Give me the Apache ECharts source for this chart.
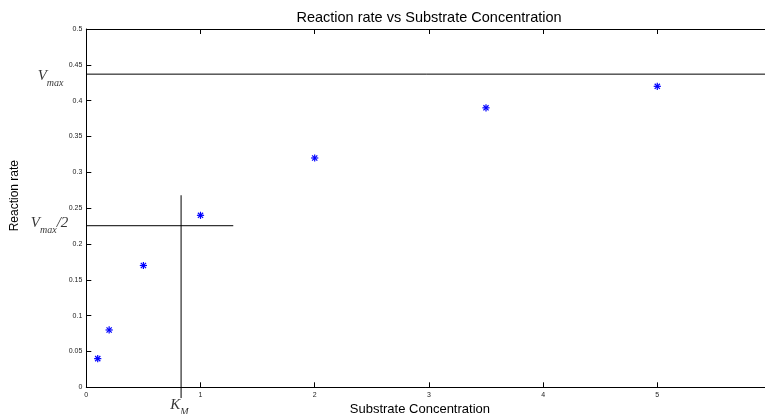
<!DOCTYPE html>
<html>
<head>
<meta charset="utf-8">
<script src="https://cdn.jsdelivr.net/npm/echarts@6/dist/echarts.min.js"></script>
<style>html,body{margin:0;padding:0;background:#fff}#c{width:765px;height:414px}</style>
</head>
<body>
<div id="c"></div>
<script>
const substrate = [0.1, 0.2, 0.5, 1, 2, 3.5, 5];
const rate = [0.04, 0.08, 0.17, 0.24, 0.32, 0.39, 0.42];
const vmax = 0.437;
const halfVmax = 0.2255;
const km = 0.83;
const titleText = 'Reaction rate vs Substrate Concentration';
const xName = 'Substrate Concentration';
const yName = 'Reaction rate';

const chart = echarts.init(document.getElementById('c'));
const sans = 'Liberation Sans, Arial, Helvetica, sans-serif';
const serif = 'Liberation Serif, Times New Roman, serif';
const fmt = v => String(Number(v.toFixed(2)));

const lineStyle = {color: '#000', width: 1};
function seg(data) {
  return {type: 'line', data: data, symbol: 'none', clip: false, silent: true,
    lineStyle: lineStyle, animation: false, z: 3};
}
const rich = {
  v: {fontFamily: serif, fontStyle: 'italic', fontSize: 15, color: '#000'},
  s: {fontFamily: serif, fontStyle: 'italic', fontSize: 10, color: '#000', padding: [14, 0, 0, 0]},
  t: {fontFamily: serif, fontStyle: 'italic', fontSize: 15, color: '#000'}
};
function textPt(x, y, str) {
  return {type: 'scatter', data: [[x, y]], symbol: 'circle', symbolSize: 1,
    itemStyle: {color: 'rgba(0,0,0,0)'}, clip: false, silent: true, animation: false, z: 6,
    label: {show: true, position: 'right', distance: 0, formatter: str, rich: rich}};
}

chart.setOption({
  animation: false,
  title: {text: titleText, left: 424, top: 5, textAlign: 'center',
    textStyle: {fontFamily: sans, fontSize: 14.5, fontWeight: 'normal', color: '#000'}},
  grid: {left: 86.3, top: 29, right: -6.5, bottom: 26.7, containLabel: false,
    outerBoundsMode: 'none'},
  xAxis: [{
    type: 'value', min: 0, max: 6, interval: 1, position: 'bottom',
    name: xName, nameLocation: 'middle', nameGap: 9,
    nameTextStyle: {fontFamily: sans, fontSize: 13, color: '#000', padding: [0, 18, 0, 0]},
    axisLine: {show: true, lineStyle: {color: '#000', width: 1}},
    axisTick: {show: true, inside: true, length: 5, lineStyle: {color: '#000'}},
    axisLabel: {fontFamily: sans, fontSize: 7, color: '#222', margin: 4},
    splitLine: {show: false}
  }, {
    type: 'value', min: 0, max: 6, interval: 1, position: 'top',
    axisLine: {show: true, lineStyle: {color: '#000', width: 1}},
    axisTick: {show: true, inside: true, length: 5, lineStyle: {color: '#000'}},
    axisLabel: {show: false}, splitLine: {show: false}
  }],
  yAxis: [{
    type: 'value', min: 0, max: 0.5, interval: 0.05,
    name: yName, nameLocation: 'middle', nameGap: 66,
    nameTextStyle: {fontFamily: sans, fontSize: 12, color: '#000', padding: [0, 0, 0, 25]},
    axisLine: {show: true, lineStyle: {color: '#000', width: 1}},
    axisTick: {show: true, inside: true, length: 5, lineStyle: {color: '#000'}},
    axisLabel: {fontFamily: sans, fontSize: 7, color: '#222', margin: 4, formatter: fmt},
    splitLine: {show: false}
  }],
  series: [
    {
      type: 'custom', data: substrate.map((x, i) => [x, rate[i]]), clip: false, z: 5,
      renderItem: function (params, api) {
        const p = api.coord([api.value(0), api.value(1)]);
        const r = 3.6, d = 2.6;
        const st = {stroke: '#0000ff', lineWidth: 1.2};
        return {type: 'group', children: [
          {type: 'line', shape: {x1: p[0] - r, y1: p[1], x2: p[0] + r, y2: p[1]}, style: st},
          {type: 'line', shape: {x1: p[0], y1: p[1] - r, x2: p[0], y2: p[1] + r}, style: st},
          {type: 'line', shape: {x1: p[0] - d, y1: p[1] - d, x2: p[0] + d, y2: p[1] + d}, style: st},
          {type: 'line', shape: {x1: p[0] - d, y1: p[1] + d, x2: p[0] + d, y2: p[1] - d}, style: st}
        ]};
      }
    },
    seg([[0, vmax], [6, vmax]]),
    seg([[0, halfVmax], [1.287, halfVmax]]),
    seg([[km, -0.015], [km, 0.268]]),
    textPt(-0.43, 0.434, '{v|V}{s|max}'),
    textPt(-0.49, 0.229, '{v|V}{s|max}{t|/2}'),
    textPt(0.73, -0.025, '{v|K}{s|M}')
  ]
});
</script>
</body>
</html>
